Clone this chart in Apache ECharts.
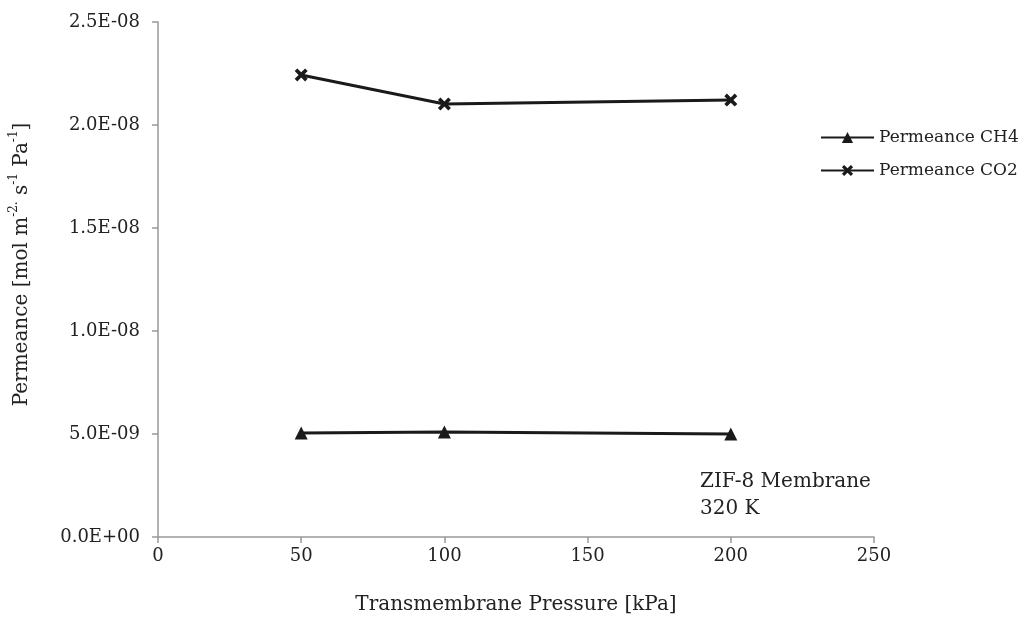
<!DOCTYPE html>
<html><head><meta charset="utf-8">
<script src="https://cdn.jsdelivr.net/npm/echarts@6/dist/echarts.min.js"></script>
<style>html,body{margin:0;padding:0;background:#fff}#c{width:1024px;height:627px}</style>
</head><body><div id="c"></div>
<script>
const pressures = [50, 100, 200];
const ch4 = [5.05e-9, 5.1e-9, 5.0e-9];
const co2 = [2.243e-8, 2.102e-8, 2.121e-8];
const seriesNames = ['Permeance CH4', 'Permeance CO2'];
const annotation = ['ZIF-8 Membrane', '320 K'];

const FONT = 'DejaVu Serif';
const chart = echarts.init(document.getElementById('c'));
const crossPath = 'path://M2,0 L5,3 L8,0 L10,2 L7,5 L10,8 L8,10 L5,7 L2,10 L0,8 L3,5 L0,2 Z';
function fmt(v){
  if (v === 0) return '0.0E+00';
  const e = Math.floor(Math.log10(Math.abs(v)) + 1e-9);
  const m = v / Math.pow(10, e);
  const es = (e < 0 ? '-' : '+') + String(Math.abs(e)).padStart(2, '0');
  return m.toFixed(1) + 'E' + es;
}
chart.setOption({
  animation: false,
  textStyle: {fontFamily: FONT},
  grid: {left: 152, right: 150, top: 22, bottom: 90, containLabel: false},
  legend: {
    orient: 'vertical', left: 815, top: 124, itemGap: 16, itemWidth: 53, itemHeight: 14,
    textStyle: {fontFamily: FONT, fontSize: 17, color: '#222'},
    data: seriesNames
  },
  xAxis: {
    type: 'value', min: 0, max: 250, interval: 50,
    name: 'Transmembrane Pressure [kPa]', nameLocation: 'middle', nameGap: 58,
    nameTextStyle: {fontFamily: FONT, fontSize: 20, color: '#222'},
    axisLine: {lineStyle: {color: '#999', width: 1.5}},
    axisTick: {show: true, length: 6, lineStyle: {color: '#999', width: 1.5}},
    axisLabel: {fontFamily: FONT, fontSize: 18, color: '#222', margin: 10},
    splitLine: {show: false}
  },
  yAxis: {
    type: 'value', min: 0, max: 2.5e-8, interval: 5e-9,
    name: '{a|Permeance [mol m}{s|-2.}{a| s}{s|-1}{a| Pa}{s|-1}{a|]}',
    nameLocation: 'middle', nameGap: 126, nameRotate: 90,
    nameTextStyle: {
      padding: [0, 0, 0, 30],
      rich: {
        a: {fontFamily: FONT, fontSize: 20, color: '#222', verticalAlign: 'bottom', lineHeight: 24},
        s: {fontFamily: FONT, fontSize: 12, color: '#222', verticalAlign: 'top', lineHeight: 24, padding:[0,0,10,0]}
      }
    },
    axisLine: {show: true, lineStyle: {color: '#999', width: 1.5}},
    axisTick: {show: true, length: 6, lineStyle: {color: '#999', width: 1.5}},
    axisLabel: {fontFamily: FONT, fontSize: 18, color: '#222', margin: 18, formatter: fmt},
    splitLine: {show: false}
  },
  series: [
    {
      name: seriesNames[0], type: 'line',
      data: pressures.map((p, i) => [p, ch4[i]]),
      symbol: 'triangle', symbolSize: 13,
      lineStyle: {color: '#1a1a1a', width: 3},
      itemStyle: {color: '#1a1a1a'}
    },
    {
      name: seriesNames[1], type: 'line',
      data: pressures.map((p, i) => [p, co2[i]]),
      symbol: crossPath, symbolSize: 13,
      lineStyle: {color: '#1a1a1a', width: 3},
      itemStyle: {color: '#1a1a1a'}
    }
  ],
  graphic: [{
    type: 'text', left: 700, top: 468,
    style: {text: annotation.join('\n'), fontFamily: FONT, fontSize: 20, lineHeight: 27, fill: '#222'}
  }]
});
</script></body></html>
